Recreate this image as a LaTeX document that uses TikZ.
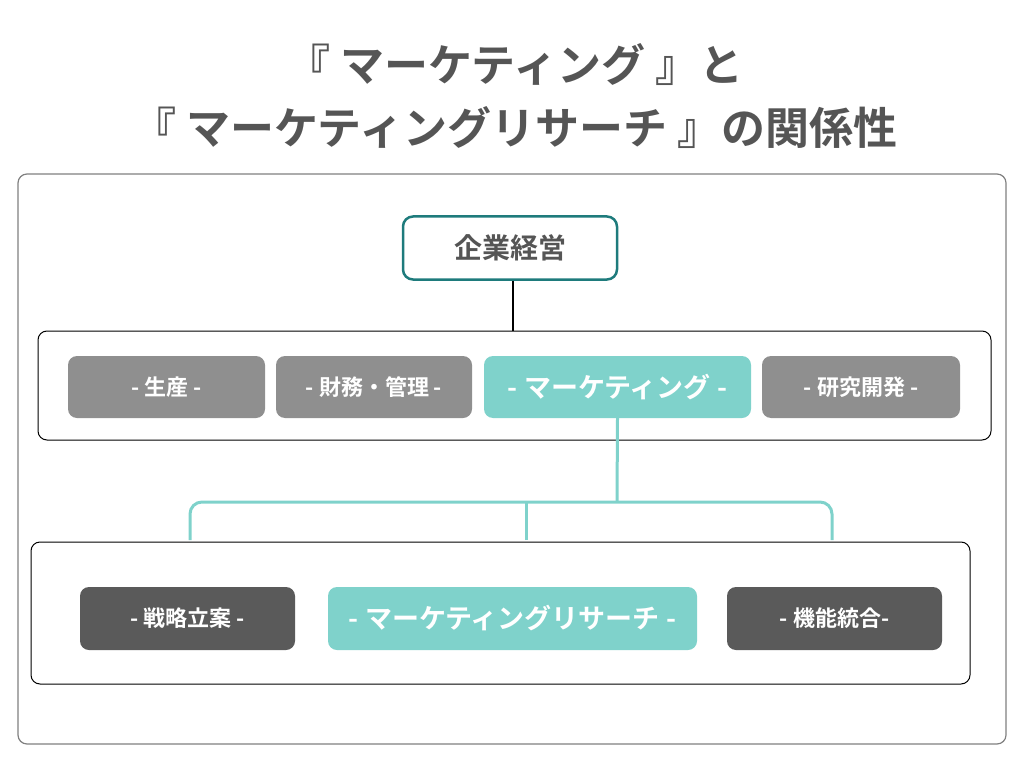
\documentclass[tikz,border=0pt]{standalone}
\usepackage{fontspec}
\newfontfamily\jp{Noto Sans CJK JP}[BoldFont={* Bold}]
\definecolor{tg}{HTML}{555555}
\definecolor{teal1}{HTML}{1E7B7C}
\definecolor{tl}{HTML}{7FD2CB}
\definecolor{gr}{HTML}{8F8F8F}
\definecolor{dk}{HTML}{5A5A5A}
\begin{document}
\begin{tikzpicture}[x=1pt,y=-1pt,
  bx/.style={rounded corners=9pt,inner sep=0pt,text=white,font=\jp\bfseries\fontsize{22}{26}\selectfont},
  fr/.style={draw,rounded corners=9pt,line width=1pt}]
\useasboundingbox (0,0) rectangle (1024,767);
\node[font=\jp\bfseries\fontsize{44}{63}\selectfont,text=tg,align=center] (t) at (515,96) {『 マーケティング 』と\\『 マーケティングリサーチ 』の関係性};
\draw[fr,draw=gray,line width=1.2pt] (18,174) rectangle (1006,744);
\node[draw=teal1,line width=2.5pt,rounded corners=10pt,minimum width=214pt,minimum height=63pt,text=tg,font=\jp\bfseries\fontsize{28}{32}\selectfont] (k) at (510,248) {企業経営};
\draw[fr,draw=black] (38,331) rectangle (991,440);
\coordinate (r1) at (513,331);
\draw[line width=1.2pt] (k.south -| r1) -- (r1);
\node[bx,fill=gr,minimum width=197pt,minimum height=62pt] (a) at (166.5,387) {- 生産 -};
\node[bx,fill=gr,minimum width=196pt,minimum height=62pt] (b) at (374,387) {- 財務・管理 -};
\node[bx,fill=tl,minimum width=267pt,minimum height=62pt,font=\jp\bfseries\fontsize{27}{31}\selectfont] (m) at (617.5,387) {- マーケティング -};
\node[bx,fill=gr,minimum width=198pt,minimum height=62pt] (c) at (861,387) {- 研究開発 -};
\draw[fr,draw=black] (31,542) rectangle (970,684);
\coordinate (j) at (617,502);
\coordinate (l) at (190,540);
\coordinate (mm) at (526,540);
\coordinate (r) at (832,540);
\draw[tl,line width=3pt] (m.south) -- (j);
\draw[tl,line width=3pt,rounded corners=12pt] (l) |- (j) -| (r);
\draw[tl,line width=3pt] (mm) -- (526,502);
\node[bx,fill=dk,minimum width=215pt,minimum height=63pt] (s) at (187.5,618.5) {- 戦略立案 -};
\node[bx,fill=tl,minimum width=369pt,minimum height=63pt,font=\jp\bfseries\fontsize{27}{31}\selectfont] (mr) at (512.5,618.5) {- マーケティングリサーチ -};
\node[bx,fill=dk,minimum width=215pt,minimum height=63pt] (f) at (834.5,618.5) {- 機能統合-};
\end{tikzpicture}
\end{document}
